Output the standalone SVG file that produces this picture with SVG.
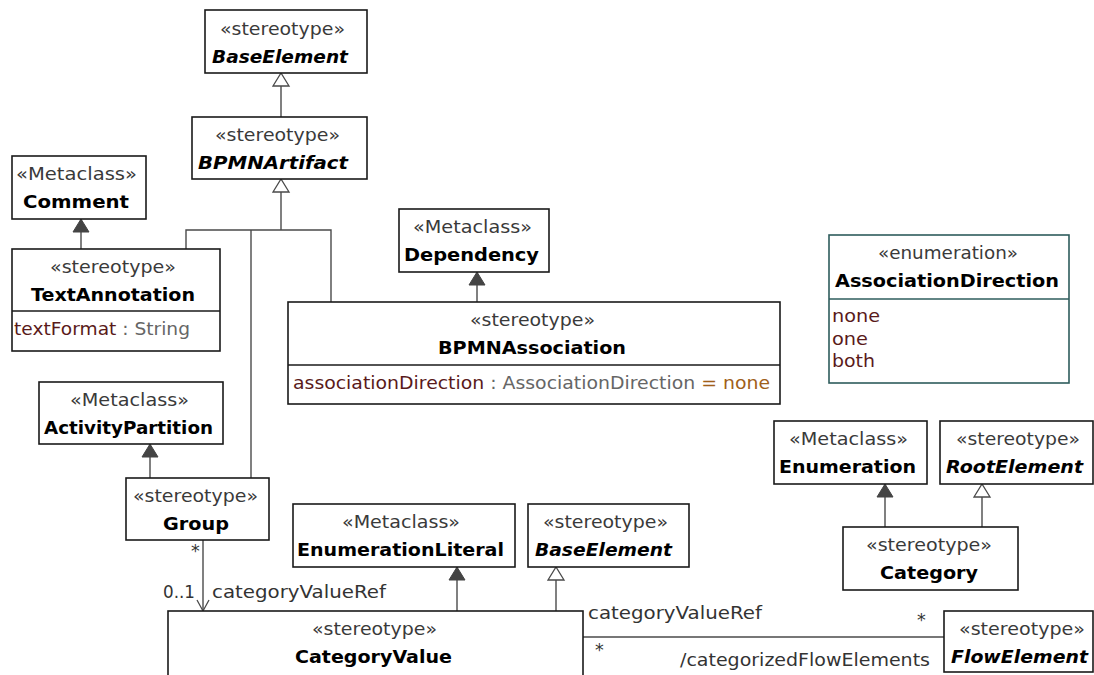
<svg xmlns="http://www.w3.org/2000/svg" width="1094" height="675" viewBox="0 0 1094 675">
<style>
.box{fill:#fff;stroke:#1a1a1a;stroke-width:1.6}
.enumbox{fill:#fff;stroke:#2e5c5c;stroke-width:1.6}
.dv{stroke:#1a1a1a;stroke-width:1.4}
.dve{stroke:#2e5c5c;stroke-width:1.4}
text{font-family:"DejaVu Sans","Liberation Sans",sans-serif;font-size:17.5px}
.st{fill:#3a3a3a}
.nm{font-weight:bold;fill:#000;font-size:18px}
.it{font-style:italic}
.an{fill:#5a1a1a}
.ty{fill:#666}
.df{fill:#a0601a}
.lb{fill:#333}
.ln{stroke:#4a4a4a;stroke-width:1.4;fill:none}
</style>
<defs>
<marker id="gen" markerUnits="userSpaceOnUse" viewBox="-1 -1 16 19" markerWidth="16" markerHeight="19" refX="13" refY="8" orient="auto">
<path d="M0,0 L13,8 L0,16 Z" fill="#fff" stroke="#4a4a4a" stroke-width="1.3"/>
</marker>
<marker id="ext" markerUnits="userSpaceOnUse" viewBox="-1 -1 16 19" markerWidth="16" markerHeight="19" refX="13" refY="8" orient="auto">
<path d="M0,0 L13,8 L0,16 Z" fill="#444" stroke="#444" stroke-width="1"/>
</marker>
<marker id="opn" markerUnits="userSpaceOnUse" viewBox="-1 -1 14 15" markerWidth="14" markerHeight="15" refX="11" refY="6" orient="auto">
<path d="M0,0 L11,6 L0,12" fill="none" stroke="#4a4a4a" stroke-width="1.3"/>
</marker>
</defs>

<g id="connectors">
<path class="ln" marker-end="url(#gen)" d="M281,117 V73"/>
<path class="ln" marker-end="url(#gen)" d="M281,230 V179"/>
<path class="ln" d="M186,249 V230 H331 V302"/>
<path class="ln" d="M251,230 V478"/>
<path class="ln" marker-end="url(#ext)" d="M81,249 V219"/>
<path class="ln" marker-end="url(#ext)" d="M477,302 V272"/>
<path class="ln" marker-end="url(#ext)" d="M150,478 V444"/>
<path class="ln" marker-end="url(#ext)" d="M457,611 V567"/>
<path class="ln" marker-end="url(#gen)" d="M556,611 V567"/>
<path class="ln" marker-end="url(#ext)" d="M885,527 V484"/>
<path class="ln" marker-end="url(#gen)" d="M982,527 V484"/>
<path class="ln" marker-end="url(#opn)" d="M203,540 V611"/>
<path class="ln" d="M583,637 H944"/>
<text class="lb" x="191" y="557" font-size="14">*</text>
<text class="lb" x="163" y="598" textLength="32" lengthAdjust="spacingAndGlyphs">0..1</text>
<text class="lb" x="212" y="598" textLength="174" lengthAdjust="spacingAndGlyphs">categoryValueRef</text>
<text class="lb" x="588" y="619" textLength="174" lengthAdjust="spacingAndGlyphs">categoryValueRef</text>
<text class="lb" x="917" y="626" font-size="14">*</text>
<text class="lb" x="595" y="656" font-size="14">*</text>
<text class="lb" x="680" y="666" textLength="250" lengthAdjust="spacingAndGlyphs">/categorizedFlowElements</text>
</g>

<g id="BaseElement1">
<rect class="box" x="205" y="10" width="162" height="63"/>
<text class="st" x="220" y="35" textLength="125" lengthAdjust="spacingAndGlyphs">«stereotype»</text>
<text class="nm it" x="212" y="63" textLength="136" lengthAdjust="spacingAndGlyphs">BaseElement</text>
</g>

<g id="BPMNArtifact">
<rect class="box" x="192" y="117" width="175" height="62"/>
<text class="st" x="215" y="141" textLength="125" lengthAdjust="spacingAndGlyphs">«stereotype»</text>
<text class="nm it" x="198" y="169" textLength="150" lengthAdjust="spacingAndGlyphs">BPMNArtifact</text>
</g>

<g id="Comment">
<rect class="box" x="12" y="156" width="134" height="63"/>
<text class="st" x="16" y="180" textLength="121" lengthAdjust="spacingAndGlyphs">«Metaclass»</text>
<text class="nm" x="23" y="208" textLength="106" lengthAdjust="spacingAndGlyphs">Comment</text>
</g>

<g id="TextAnnotation">
<rect class="box" x="12" y="249" width="208" height="102"/>
<line class="dv" x1="12" y1="311" x2="220" y2="311"/>
<text class="st" x="50" y="273" textLength="126" lengthAdjust="spacingAndGlyphs">«stereotype»</text>
<text class="nm" x="31" y="301" textLength="164" lengthAdjust="spacingAndGlyphs">TextAnnotation</text>
<text x="14" y="335" textLength="176" lengthAdjust="spacingAndGlyphs"><tspan class="an">textFormat</tspan><tspan class="ty"> : String</tspan></text>
</g>

<g id="Dependency">
<rect class="box" x="399" y="209" width="150" height="63"/>
<text class="st" x="413" y="233" textLength="119" lengthAdjust="spacingAndGlyphs">«Metaclass»</text>
<text class="nm" x="404" y="261" textLength="135" lengthAdjust="spacingAndGlyphs">Dependency</text>
</g>

<g id="BPMNAssociation">
<rect class="box" x="288" y="302" width="492" height="102"/>
<line class="dv" x1="288" y1="365" x2="780" y2="365"/>
<text class="st" x="470" y="326" textLength="125" lengthAdjust="spacingAndGlyphs">«stereotype»</text>
<text class="nm" x="438" y="354" textLength="188" lengthAdjust="spacingAndGlyphs">BPMNAssociation</text>
<text x="293" y="389" textLength="477" lengthAdjust="spacingAndGlyphs"><tspan class="an">associationDirection</tspan><tspan class="ty"> : AssociationDirection </tspan><tspan class="df">= none</tspan></text>
</g>

<g id="AssociationDirection">
<rect class="enumbox" x="829" y="235" width="240" height="148"/>
<line class="dve" x1="829" y1="299" x2="1069" y2="299"/>
<text class="st" x="878" y="259" textLength="140" lengthAdjust="spacingAndGlyphs">«enumeration»</text>
<text class="nm" x="835" y="287" textLength="224" lengthAdjust="spacingAndGlyphs">AssociationDirection</text>
<text class="an" x="832" y="322" textLength="48" lengthAdjust="spacingAndGlyphs">none</text>
<text class="an" x="832" y="345" textLength="36" lengthAdjust="spacingAndGlyphs">one</text>
<text class="an" x="832" y="367" textLength="43" lengthAdjust="spacingAndGlyphs">both</text>
</g>

<g id="ActivityPartition">
<rect class="box" x="39" y="382" width="184" height="62"/>
<text class="st" x="70" y="406" textLength="119" lengthAdjust="spacingAndGlyphs">«Metaclass»</text>
<text class="nm" x="44" y="434" textLength="169" lengthAdjust="spacingAndGlyphs">ActivityPartition</text>
</g>

<g id="Group">
<rect class="box" x="126" y="478" width="143" height="62"/>
<text class="st" x="133" y="502" textLength="125" lengthAdjust="spacingAndGlyphs">«stereotype»</text>
<text class="nm" x="163" y="530" textLength="66" lengthAdjust="spacingAndGlyphs">Group</text>
</g>

<g id="EnumerationLiteral">
<rect class="box" x="293" y="504" width="222" height="63"/>
<text class="st" x="342" y="528" textLength="118" lengthAdjust="spacingAndGlyphs">«Metaclass»</text>
<text class="nm" x="297" y="556" textLength="207" lengthAdjust="spacingAndGlyphs">EnumerationLiteral</text>
</g>

<g id="BaseElement2">
<rect class="box" x="528" y="504" width="161" height="63"/>
<text class="st" x="543" y="528" textLength="125" lengthAdjust="spacingAndGlyphs">«stereotype»</text>
<text class="nm it" x="535" y="556" textLength="137" lengthAdjust="spacingAndGlyphs">BaseElement</text>
</g>

<g id="Enumeration">
<rect class="box" x="774" y="421" width="153" height="63"/>
<text class="st" x="789" y="445" textLength="119" lengthAdjust="spacingAndGlyphs">«Metaclass»</text>
<text class="nm" x="779" y="473" textLength="137" lengthAdjust="spacingAndGlyphs">Enumeration</text>
</g>

<g id="RootElement">
<rect class="box" x="940" y="421" width="153" height="63"/>
<text class="st" x="956" y="445" textLength="124" lengthAdjust="spacingAndGlyphs">«stereotype»</text>
<text class="nm it" x="946" y="473" textLength="137" lengthAdjust="spacingAndGlyphs">RootElement</text>
</g>

<g id="Category">
<rect class="box" x="843" y="527" width="175" height="63"/>
<text class="st" x="866" y="551" textLength="126" lengthAdjust="spacingAndGlyphs">«stereotype»</text>
<text class="nm" x="880" y="579" textLength="98" lengthAdjust="spacingAndGlyphs">Category</text>
</g>

<g id="FlowElement">
<rect class="box" x="944" y="611" width="149" height="61"/>
<text class="st" x="959" y="635" textLength="126" lengthAdjust="spacingAndGlyphs">«stereotype»</text>
<text class="nm it" x="951" y="663" textLength="137" lengthAdjust="spacingAndGlyphs">FlowElement</text>
</g>

<g id="CategoryValue">
<rect class="box" x="168" y="611" width="415" height="100"/>
<text class="st" x="312" y="635" textLength="125" lengthAdjust="spacingAndGlyphs">«stereotype»</text>
<text class="nm" x="295" y="663" textLength="157" lengthAdjust="spacingAndGlyphs">CategoryValue</text>
</g>
</svg>
